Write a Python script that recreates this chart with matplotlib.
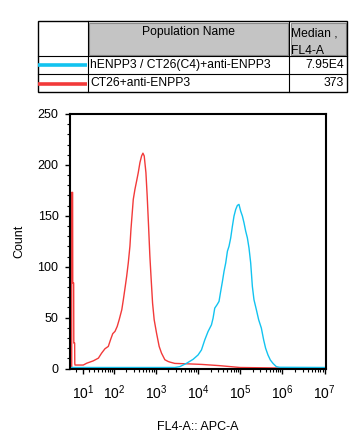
import matplotlib
matplotlib.use("Agg")
import matplotlib.pyplot as plt
import numpy as np
from matplotlib.patches import Rectangle

plt.rcParams['font.family'] = ['Liberation Sans', 'DejaVu Sans']
plt.rcParams['mathtext.fontset'] = 'custom'
plt.rcParams['mathtext.rm'] = 'Liberation Sans'
plt.rcParams['mathtext.it'] = 'Liberation Sans'

# histogram traces (FL4-A value, count)
red_fl = [-6.3, -6.3, -5.0, -4.8, -3.5, -3.3, -2.1, -1.9, -1.6, 10.4, 15.9, 28, 40, 49,
          60, 73, 83, 94, 107, 121, 135, 156, 170, 189, 204, 223, 244, 258, 277, 293,
          321, 352, 385, 422, 462, 497, 533, 585, 627, 676, 726, 780, 841, 918, 1045,
          1205, 1370, 1644, 1965, 2160, 2830, 6410, 12400, 32700, 98600, 731000, 1.1e7]
red_count = [0, 173, 173, 84, 84, 25, 25, 5, 3.4, 3.4, 5.2, 7.5, 10.2, 15.1,
             19.4, 21.7, 28.3, 34.2, 36.5, 41.4, 48.0, 57.8, 67.7, 80.8, 90.6, 103.8, 120.2, 136.6, 153.0, 166.1,
             176.0, 184.2, 192.4, 202.3, 208.8, 211.5, 208.8, 192.4, 169.4, 139.8, 110.3, 87.3, 64.3, 47.9, 34.7,
             21.7, 15.1, 8.6, 6.9, 6.3, 5.0, 4.5, 4.0, 2.8, 1.0, 0.5, 0.3]

blue_fl = [-6.3, 2850, 3715, 5356, 7670, 10060, 12100, 14480, 17340, 20890, 22800, 25000,
           28300, 31550, 34030, 38010, 41500, 45490, 49880, 54440, 59700, 65460, 71440,
           78340, 85890, 93740, 102800, 113000, 123300, 135200, 148200, 161900, 177500,
           194500, 212300, 242100, 274200, 317600, 359700, 400800, 454900, 517500,
           597000, 719400, 858900, 1.1e7]
blue_count = [1.0, 1.0, 1.8, 5.1, 9.0, 13.3, 18.2, 28.0, 36.3, 42.9, 49.4, 59.3,
              62.6, 65.9, 74.1, 85.6, 95.5, 103.7, 115.2, 120.1, 128.3, 139.8, 149.7,
              156.2, 160.2, 161.2, 154.6, 149.7, 143.1, 134.9, 128.3, 118.4, 103.7,
              80.7, 67.6, 57.7, 47.9, 39.7, 28.2, 19.9, 13.4, 8.4,
              5.1, 1.8, 1.2, 1.0]

populations = ["hENPP3 / CT26(C4)+anti-ENPP3", "CT26+anti-ENPP3"]
medians = ["7.95E4", "373"]
colors = ["#12c3f0", "#f23a3a"]

x_decades = [1, 2, 3, 4, 5, 6, 7]
y_ticks = [0, 50, 100, 150, 200, 250]


def fwd(x):
    return np.arcsinh(np.asarray(x, dtype=float) / 26.0) / np.log(10)


def inv(y):
    return 26.0 * np.sinh(np.asarray(y, dtype=float) * np.log(10))


fig = plt.figure(figsize=(3.58, 4.46), dpi=100)
W, H = 358, 446
ax = fig.add_axes([70.3 / W, 1 - 368.5 / H, (326 - 70.3) / W, (368.5 - 114) / H])

ax.plot(red_fl, red_count, color=colors[1], lw=1.0)
ax.plot(blue_fl, blue_count, color=colors[0], lw=1.0)

ax.set_xscale('function', functions=(fwd, inv))
ax.set_xlim(-8.4, 1.08e7)
ax.set_ylim(0, 250)

ax.set_xticks([10 ** k for k in x_decades])
ax.set_xticklabels([r'$10^{%d}$' % k for k in x_decades], fontsize=10)
ax.set_xticks([0] + [m * 10 ** k for k in range(1, 7) for m in range(2, 10)], minor=True)
ax.set_yticks(y_ticks)
ax.set_yticklabels([str(v) for v in y_ticks], fontsize=9)
ax.set_yticks(np.arange(0, 251, 10), minor=True)

ax.tick_params(which='major', length=3.5, width=1)
ax.tick_params(which='minor', length=2, width=0.8)
ax.tick_params(axis='y', which='major', pad=5)
ax.tick_params(axis='x', which='major', pad=7)
for s in ax.spines.values():
    s.set_linewidth(1.5)

ax.set_ylabel('Count', fontsize=9, labelpad=9)
ax.set_xlabel('FL4-A:: APC-A', fontsize=9, labelpad=14)

# legend table at the top
tab = fig.add_axes([0, 0, 1, 1])
tab.set_xlim(0, W)
tab.set_ylim(H, 0)
tab.axis('off')
tab.add_patch(Rectangle((89, 22.5), 199, 32, facecolor='#c4c4c4', edgecolor='#8a8a8a', lw=0.8))
tab.add_patch(Rectangle((290.5, 22.5), 55, 32, facecolor='#c4c4c4', edgecolor='#8a8a8a', lw=0.8))
tab.add_patch(Rectangle((38, 21), 309, 71, facecolor='none', edgecolor='black', lw=1))
for yy in (56, 74):
    tab.plot([38, 347], [yy, yy], color='black', lw=0.8)
for xx in (87.5, 289):
    tab.plot([xx, xx], [21, 92], color='black', lw=0.8)

fs = 8.7
tab.text(188, 32, "Population Name", fontsize=fs, ha='center', va='center')
tab.text(291, 33, "Median ,", fontsize=fs, ha='left', va='center')
tab.text(291, 50.5, "FL4-A", fontsize=fs, ha='left', va='center')
for i, (name, med, col) in enumerate(zip(populations, medians, colors)):
    yc = 65 + i * 18.5
    tab.plot([38, 87], [yc, yc], color=col, lw=2.6, solid_capstyle='butt')
    tab.text(90, yc, name, fontsize=fs, ha='left', va='center')
    tab.text(344, yc, med, fontsize=fs, ha='right', va='center')

fig.savefig("out.png", dpi=100)
